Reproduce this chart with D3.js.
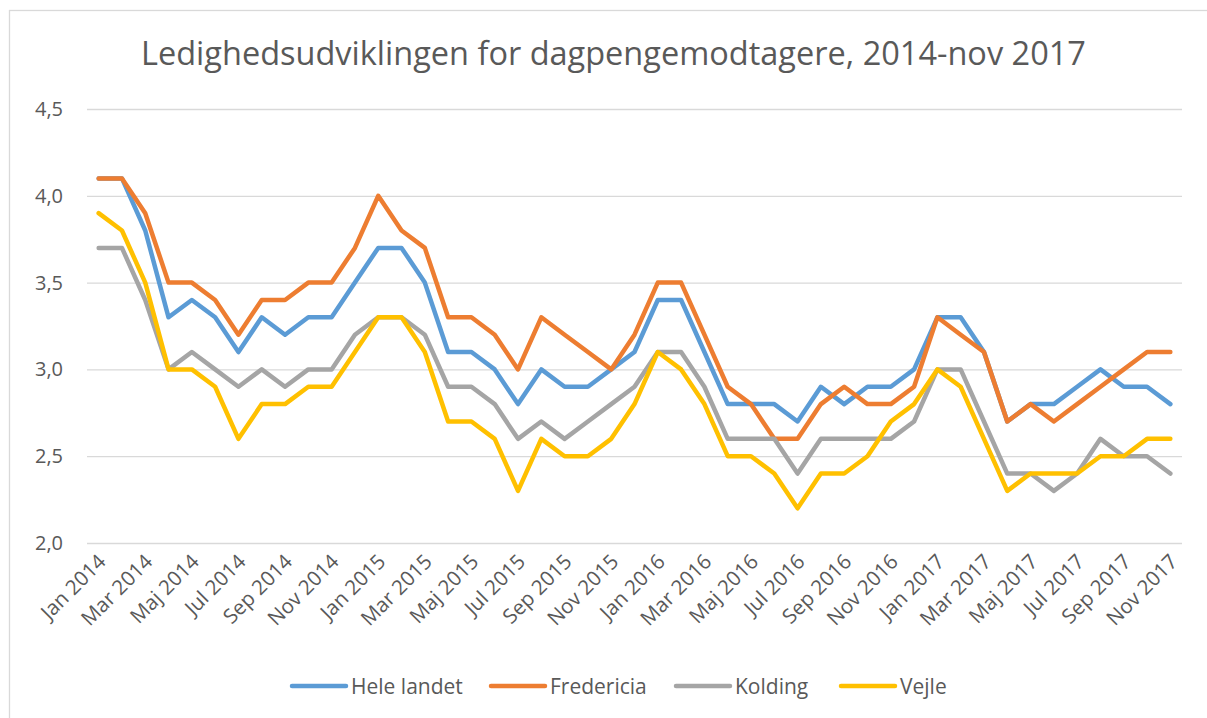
<!DOCTYPE html>
<html>
<head>
<meta charset="utf-8">
<script src="https://cdn.jsdelivr.net/npm/d3@7/dist/d3.min.js"></script>
<style>
  html, body { margin: 0; padding: 0; background: #fff; }
  svg { display: block; }
</style>
</head>
<body>
<svg id="chart" width="1207" height="718"></svg>
<script>
const months = [
  "Jan 2014","Feb 2014","Mar 2014","Apr 2014","Maj 2014","Jun 2014","Jul 2014","Aug 2014","Sep 2014","Okt 2014","Nov 2014","Dec 2014",
  "Jan 2015","Feb 2015","Mar 2015","Apr 2015","Maj 2015","Jun 2015","Jul 2015","Aug 2015","Sep 2015","Okt 2015","Nov 2015","Dec 2015",
  "Jan 2016","Feb 2016","Mar 2016","Apr 2016","Maj 2016","Jun 2016","Jul 2016","Aug 2016","Sep 2016","Okt 2016","Nov 2016","Dec 2016",
  "Jan 2017","Feb 2017","Mar 2017","Apr 2017","Maj 2017","Jun 2017","Jul 2017","Aug 2017","Sep 2017","Okt 2017","Nov 2017"
];

const heleLandet = [
  4.1,4.1,3.8,3.3,3.4,3.3,3.1,3.3,3.2,3.3,3.3,3.5,
  3.7,3.7,3.5,3.1,3.1,3.0,2.8,3.0,2.9,2.9,3.0,3.1,
  3.4,3.4,3.1,2.8,2.8,2.8,2.7,2.9,2.8,2.9,2.9,3.0,
  3.3,3.3,3.1,2.7,2.8,2.8,2.9,3.0,2.9,2.9,2.8
];
const fredericia = [
  4.1,4.1,3.9,3.5,3.5,3.4,3.2,3.4,3.4,3.5,3.5,3.7,
  4.0,3.8,3.7,3.3,3.3,3.2,3.0,3.3,3.2,3.1,3.0,3.2,
  3.5,3.5,3.2,2.9,2.8,2.6,2.6,2.8,2.9,2.8,2.8,2.9,
  3.3,3.2,3.1,2.7,2.8,2.7,2.8,2.9,3.0,3.1,3.1
];
const kolding = [
  3.7,3.7,3.4,3.0,3.1,3.0,2.9,3.0,2.9,3.0,3.0,3.2,
  3.3,3.3,3.2,2.9,2.9,2.8,2.6,2.7,2.6,2.7,2.8,2.9,
  3.1,3.1,2.9,2.6,2.6,2.6,2.4,2.6,2.6,2.6,2.6,2.7,
  3.0,3.0,2.7,2.4,2.4,2.3,2.4,2.6,2.5,2.5,2.4
];
const vejle = [
  3.9,3.8,3.5,3.0,3.0,2.9,2.6,2.8,2.8,2.9,2.9,3.1,
  3.3,3.3,3.1,2.7,2.7,2.6,2.3,2.6,2.5,2.5,2.6,2.8,
  3.1,3.0,2.8,2.5,2.5,2.4,2.2,2.4,2.4,2.5,2.7,2.8,
  3.0,2.9,2.6,2.3,2.4,2.4,2.4,2.5,2.5,2.6,2.6
];

const seriesNames = ["Hele landet","Fredericia","Kolding","Vejle"];
const seriesColors = ["#5B9BD5","#ED7D31","#A5A5A5","#FFC000"];
const yTicks = [2.0,2.5,3.0,3.5,4.0,4.5];
const titleText = "Ledighedsudviklingen for dagpengemodtagere, 2014-nov 2017";

const series = [heleLandet, fredericia, kolding, vejle].map((vals, i) => ({
  name: seriesNames[i], color: seriesColors[i], values: vals
}));

const svg = d3.select("#chart");
const FONT = "'Open Sans', 'Noto Sans', sans-serif";
const TXT = "#595959";

// outer chart border
svg.append("rect")
  .attr("x", 9.5).attr("y", 10.5)
  .attr("width", 1207 + 20).attr("height", 718 + 20)
  .attr("fill", "none").attr("stroke", "#D9D9D9").attr("stroke-width", 1.3);

const plot = { left: 87, right: 1182, top: 109, bottom: 543 };

const x = d3.scalePoint().domain(months).range([plot.left, plot.right]).padding(0.5);
const y = d3.scaleLinear().domain([2.0, 4.5]).range([plot.bottom, plot.top]);

// title
svg.append("text")
  .attr("x", 141).attr("y", 65)
  .attr("font-family", FONT).attr("font-size", 32.5)
  .attr("fill", TXT)
  .text(titleText);

// gridlines + y labels
const yAxis = d3.axisLeft(y).tickValues(yTicks)
  .tickFormat(d => d3.format(".1f")(d).replace(".", ","))
  .tickSize(-(plot.right - plot.left)).tickPadding(24);
const gy = svg.append("g").attr("transform", `translate(${plot.left},0)`).call(yAxis);
gy.select(".domain").remove();
gy.selectAll(".tick line").attr("stroke", "#D9D9D9").attr("stroke-width", 1.3);
gy.selectAll(".tick text")
  .attr("font-family", FONT).attr("font-size", 20).attr("fill", TXT);

// x axis labels (every second month)
const xAxis = d3.axisBottom(x)
  .tickValues(months.filter((d, i) => i % 2 === 0))
  .tickSize(0).tickPadding(0);
const gx = svg.append("g").attr("transform", `translate(0,${plot.bottom})`).call(xAxis);
gx.select(".domain").remove();
gx.selectAll(".tick text")
  .attr("font-family", FONT).attr("font-size", 20.5).attr("fill", TXT)
  .attr("text-anchor", "end")
  .attr("dy", null).attr("y", 0)
  .attr("transform", "translate(8,20) rotate(-45)");

// lines
const line = d3.line()
  .x((d, i) => x(months[i]))
  .y(d => y(d));

svg.append("g").selectAll("path")
  .data(series)
  .join("path")
  .attr("d", d => line(d.values))
  .attr("fill", "none")
  .attr("stroke", d => d.color)
  .attr("stroke-width", 4.5)
  .attr("stroke-linejoin", "round")
  .attr("stroke-linecap", "round");

// legend
const legendX = [292, 491, 676, 841];
const legend = svg.append("g");
series.forEach((s, i) => {
  const g = legend.append("g").attr("transform", `translate(${legendX[i]},686)`);
  g.append("line").attr("x1", 0).attr("x2", 54).attr("y1", 0).attr("y2", 0)
    .attr("stroke", s.color).attr("stroke-width", 4.5).attr("stroke-linecap", "round");
  g.append("text").attr("x", 59).attr("y", 7.5)
    .attr("font-family", FONT).attr("font-size", 21).attr("fill", TXT)
    .text(s.name);
});
</script>
</body>
</html>
